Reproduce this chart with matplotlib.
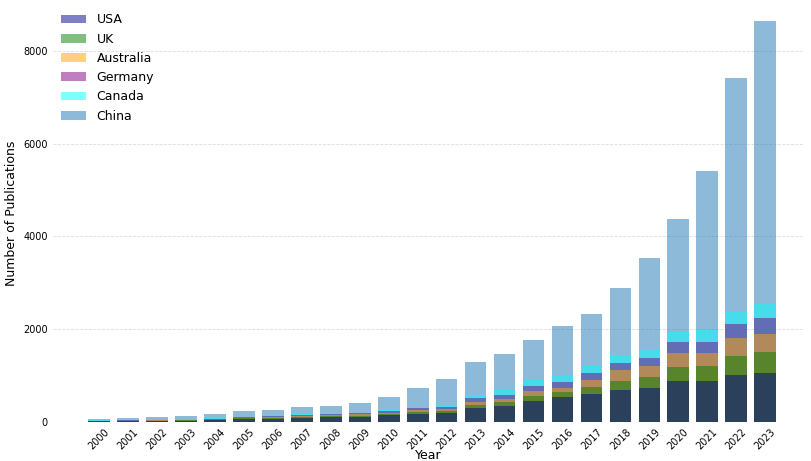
import matplotlib
matplotlib.use("Agg")
import matplotlib.pyplot as plt
import numpy as np

years = list(range(2000, 2024))
usa = [10,15,20,25,40,60,70,90,100,110,140,170,190,290,350,450,530,600,680,720,880,880,1010,1050]
uk = [15,20,25,30,50,75,85,110,120,135,170,210,240,370,420,560,640,750,880,960,1190,1200,1420,1500]
australia = [20,25,30,35,60,85,100,125,140,160,200,250,280,430,500,660,740,900,1110,1200,1490,1490,1800,1900]
germany = [25,30,35,40,70,95,115,140,160,180,230,290,320,510,580,780,860,1050,1260,1370,1720,1720,2100,2250]
canada = [30,35,40,45,80,105,130,160,180,200,260,320,370,580,690,900,1000,1200,1410,1580,1940,1970,2360,2550]
china = [60,80,95,115,170,230,260,330,350,400,530,720,920,1280,1460,1770,2060,2330,2880,3530,4370,5420,7420,8650]

series = [("USA", usa, "#00008B"), ("UK", uk, "#008000"), ("Australia", australia, "#FFA500"),
          ("Germany", germany, "#800080"), ("Canada", canada, "#00FFFF"), ("China", china, "#1f77b4")]

fig, ax = plt.subplots(figsize=(8.11, 4.61), dpi=100)
x = np.arange(len(years))
n = len(series)
for i, (name, vals, c) in enumerate(series):
    ax.bar(x, vals, width=0.75, color=c, alpha=0.5, label=name, zorder=n - i + 2)
ax.set_xticks(x)
ax.set_xticklabels([str(y) for y in years], rotation=45, fontsize=7)
ax.tick_params(axis='y', labelsize=7, length=0)
ax.tick_params(axis='x', length=0)
ax.set_yticks([0, 2000, 4000, 6000, 8000])
ax.set_xlabel("Year", fontsize=9, labelpad=-2)
ax.set_ylabel("Number of Publications", fontsize=9)
for s in ax.spines.values():
    s.set_visible(False)
ax.grid(axis='y', linestyle='--', color='#dddddd', linewidth=0.6, zorder=0)
ax.set_xlim(-1.6, 24.3)
ax.set_ylim(0, 9000)
ax.legend(loc='upper left', frameon=False, fontsize=9, borderaxespad=0.3)
fig.subplots_adjust(left=0.065, right=0.99, top=0.99, bottom=0.085)
fig.savefig("out.png")
